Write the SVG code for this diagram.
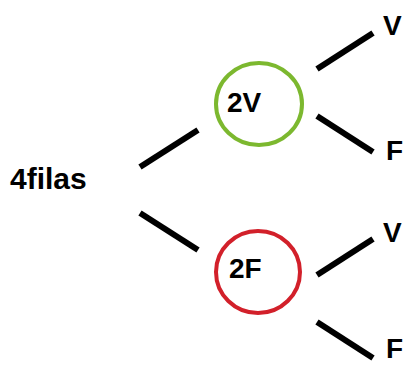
<svg xmlns="http://www.w3.org/2000/svg" width="407" height="366" viewBox="0 0 407 366">
<style>
text{font-family:"Liberation Sans",Arial,sans-serif;font-weight:bold;fill:#000}
.c{stroke:#000;stroke-width:6;fill:none}
.n{fill:none;stroke-width:4}
</style>
<rect width="407" height="366" fill="#fff"/>
<g id="connectors">
<line class="c" x1="140" y1="167" x2="198" y2="130"/>
<line class="c" x1="140" y1="213" x2="198" y2="250"/>
<line class="c" x1="317" y1="69" x2="373" y2="33"/>
<line class="c" x1="317" y1="116" x2="373" y2="152"/>
<line class="c" x1="317" y1="275" x2="373" y2="239"/>
<line class="c" x1="317" y1="322" x2="373" y2="358"/>
</g>
<g id="root"><text x="10" y="189" font-size="30">4filas</text></g>
<g id="n2V"><ellipse class="n" cx="259" cy="104" rx="43" ry="41" stroke="#7cb82f"/><text x="227" y="112" font-size="28">2V</text></g>
<g id="n2F"><ellipse class="n" cx="258" cy="272" rx="42" ry="41" stroke="#d2202a"/><text x="229" y="278" font-size="28">2F</text></g>
<g id="v1"><text x="383" y="35" font-size="28">V</text></g>
<g id="f1"><text x="386" y="160" font-size="28">F</text></g>
<g id="v2"><text x="383" y="242" font-size="28">V</text></g>
<g id="f2"><text x="386" y="358" font-size="28">F</text></g>
</svg>
